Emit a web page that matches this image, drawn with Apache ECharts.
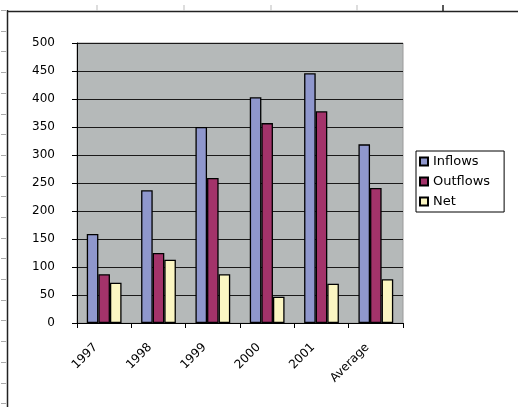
<!DOCTYPE html>
<html>
<head>
<meta charset="utf-8">
<script src="https://cdn.jsdelivr.net/npm/echarts@6/dist/echarts.min.js"></script>
<style>
html,body{margin:0;padding:0;background:#fff;}
#c{width:518px;height:407px;}
</style>
</head>
<body>
<div id="c"></div>
<script>
const categories = ['1997', '1998', '1999', '2000', '2001', 'Average'];
const inflows = [159, 237, 350, 403, 446, 319];
const outflows = [87, 125, 259, 357, 378, 241];
const net = [72, 113, 87, 47, 70, 78];
const yTicks = [0, 50, 100, 150, 200, 250, 300, 350, 400, 450, 500];

const chart = echarts.init(document.getElementById('c'), null, {renderer: 'canvas'});

// decorative spreadsheet frame
const frame = [];
frame.push({type: 'line', shape: {x1: 8, y1: 11.5, x2: 518, y2: 11.5}, style: {stroke: '#222', lineWidth: 1.5}, silent: true});
frame.push({type: 'line', shape: {x1: 7.5, y1: 10, x2: 7.5, y2: 407}, style: {stroke: '#222', lineWidth: 1.5}, silent: true});
[97, 184, 271, 357].forEach(x => frame.push({type: 'line', shape: {x1: x, y1: 5, x2: x, y2: 11}, style: {stroke: '#bbb', lineWidth: 1}, silent: true}));
frame.push({type: 'line', shape: {x1: 443, y1: 5, x2: 443, y2: 11}, style: {stroke: '#222', lineWidth: 1.5}, silent: true});
for (let y = 10; y < 407; y += 20.7) {
  frame.push({type: 'line', shape: {x1: 1, y1: Math.round(y) + 0.5, x2: 6, y2: Math.round(y) + 0.5}, style: {stroke: '#aaa', lineWidth: 1}, silent: true});
}

chart.setOption({
  backgroundColor: '#ffffff',
  animation: false,
  graphic: frame,
  grid: {
    left: 77, top: 43, right: 115, bottom: 84,
    show: true, backgroundColor: '#b5b9b9', borderColor: '#9a9a9a', borderWidth: 1
  },
  legend: {
    orient: 'vertical',
    left: 416, top: 151,
    padding: [4, 14, 4, 3],
    itemGap: 7,
    itemWidth: 8, itemHeight: 8,
    borderColor: '#000', borderWidth: 1,
    backgroundColor: '#fff',
    icon: 'rect',
    textStyle: {fontFamily: 'DejaVu Sans', fontSize: 13, color: '#000'},
    data: ['Inflows', 'Outflows', 'Net']
  },
  xAxis: {
    type: 'category',
    data: categories,
    axisLine: {lineStyle: {color: '#000', width: 1}},
    axisTick: {show: true, length: 5, lineStyle: {color: '#000'}},
    axisLabel: {rotate: 45, margin: 14, padding: [0, 12, 0, 0], fontFamily: 'DejaVu Sans', fontSize: 12, color: '#000'},
    splitLine: {show: false}
  },
  yAxis: {
    type: 'value',
    min: 0, max: 500, interval: 50,
    axisLine: {show: true, lineStyle: {color: '#000', width: 1}},
    axisTick: {show: true, length: 5, lineStyle: {color: '#000'}},
    axisLabel: {margin: 22, fontFamily: 'DejaVu Sans', fontSize: 12, color: '#000',
      formatter: v => yTicks.includes(v) ? String(v) : ''},
    splitLine: {show: true, lineStyle: {color: '#1a1a1a', width: 1}}
  },
  series: [
    {name: 'Inflows', type: 'bar', data: inflows, barGap: '0%', barCategoryGap: '36%',
      itemStyle: {color: '#8f97cd', borderColor: '#000', borderWidth: 1.3}},
    {name: 'Outflows', type: 'bar', data: outflows, barGap: '0%', barCategoryGap: '36%',
      itemStyle: {color: '#a3336a', borderColor: '#000', borderWidth: 1.3}},
    {name: 'Net', type: 'bar', data: net, barGap: '0%', barCategoryGap: '36%',
      itemStyle: {color: '#fbf6c2', borderColor: '#000', borderWidth: 1.3}}
  ]
});
</script>
</body>
</html>
